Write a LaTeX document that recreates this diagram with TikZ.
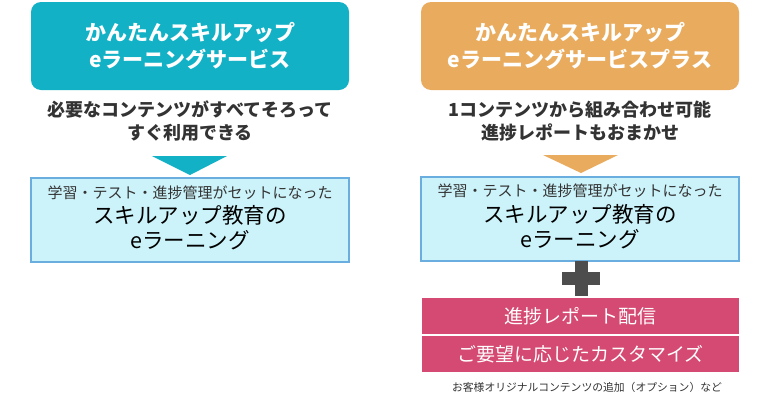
\documentclass[tikz,border=0pt]{standalone}
\usepackage{fontspec}
\setmainfont{Noto Sans CJK JP}
\definecolor{teal1}{HTML}{13B1C6}
\definecolor{orange1}{HTML}{E9AC5E}
\definecolor{lightfill}{HTML}{CCF3FA}
\definecolor{lightborder}{HTML}{6AAEDF}
\definecolor{pink1}{HTML}{D54A72}
\definecolor{plusgray}{HTML}{4D4D4D}
\definecolor{txt}{HTML}{333333}
\tikzset{
  headbox/.style={rounded corners=10pt, minimum width=318pt, minimum height=88pt, inner sep=0pt,
    text=white, align=center, font=\fontsize{21}{27}\selectfont\bfseries},
  subtext/.style={align=center, text=txt, inner sep=0pt, font=\fontsize{18}{23}\selectfont\bfseries},
  lightbox/.style={draw=lightborder, line width=1.2pt, fill=lightfill, minimum width=318pt, minimum height=84pt, inner sep=0pt},
  pinkbox/.style={fill=pink1, minimum width=317pt, minimum height=36pt, inner sep=0pt, text=white,
    font=\fontsize{19}{22}\selectfont},
  smalltext/.style={text=txt, font=\fontsize{15}{18}\selectfont, inner sep=0pt},
  bigtext/.style={text=black, align=center, font=\fontsize{21.5}{25}\selectfont, inner sep=0pt},
}
\begin{document}
\begin{tikzpicture}[x=1pt,y=-1pt]
\useasboundingbox (0,0) rectangle (770,413);
\fill[white] (0,0) rectangle (770,413);
% left column
\node[headbox, fill=teal1] (lh) at (190,46) {かんたんスキルアップ\\eラーニングサービス};
\node[subtext] (ls) at (190,121) {必要なコンテンツがすべてそろって\\すぐ利用できる};
\fill[teal1] (152,156) -- (227,156) -- (190,175) -- cycle;
\node[lightbox] (lb) at (190,220) {};
\node[smalltext] (lb1) at (190,193) {学習・テスト・進捗管理がセットになった};
\node[bigtext] (lb2) at (190,228) {スキルアップ教育の\\eラーニング};
% right column
\node[headbox, fill=orange1] (rh) at (580,46) {かんたんスキルアップ\\eラーニングサービスプラス};
\node[subtext] (rs) at (580,121) {1コンテンツから組み合わせ可能\\進捗レポートもおまかせ};
\fill[orange1] (543,155) -- (618,155) -- (581,173) -- cycle;
\node[lightbox] (rb) at (580,219) {};
\node[smalltext] (rb1) at (580,191) {学習・テスト・進捗管理がセットになった};
\node[bigtext] (rb2) at (580,227) {スキルアップ教育の\\eラーニング};
% plus
\fill[plusgray] (562,272) rectangle (600,285);
\fill[plusgray] (574.5,261) rectangle (587.5,296);
% pink boxes
\node[pinkbox] (p1) at (580.5,316) {進捗レポート配信};
\node[pinkbox] (p2) at (580.5,354) {ご要望に応じたカスタマイズ};
\node[text=txt, font=\fontsize{10.8}{13}\selectfont, inner sep=0pt] (fn) at (587,387) {お客様オリジナルコンテンツの追加（オプション）など};
\end{tikzpicture}
\end{document}
